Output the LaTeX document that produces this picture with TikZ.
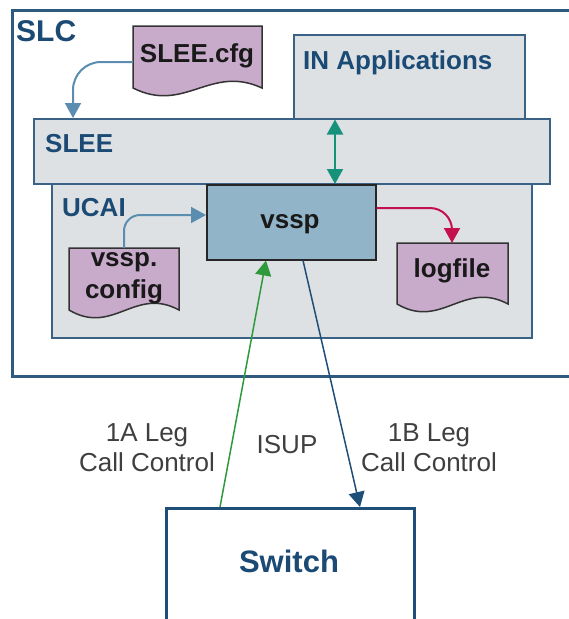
\documentclass[tikz,border=0pt]{standalone}
\usepackage{fontspec}
\setmainfont{Liberation Sans}
\usetikzlibrary{arrows.meta,calc}
\definecolor{slcblue}{HTML}{2E5A80}
\definecolor{textblue}{HTML}{1B4A75}
\definecolor{boxgray}{HTML}{DDE1E3}
\definecolor{boxborder}{HTML}{3A6186}
\definecolor{vsspfill}{HTML}{92B4C8}
\definecolor{docfill}{HTML}{C8AACB}
\definecolor{cfgblue}{HTML}{5A8DB0}
\definecolor{tealc}{HTML}{17927A}
\definecolor{redc}{HTML}{C4104C}
\definecolor{greenc}{HTML}{2E9A3C}
\definecolor{navyc}{HTML}{1F4E79}
\definecolor{lblgray}{HTML}{3F3F3F}
\newcommand{\docshape}[5]{%
  \draw[docstyle] (#2,#3) -- (#4,#3) -- (#4,#5)
    .. controls ({#2+0.6*(#4-#2)},{#5-24}) and ({#2+0.4*(#4-#2)},{#5+26}) .. (#2,#5) -- cycle;
  \coordinate (#1) at ({(#2+#4)/2},{(#3+#5)/2});
}
\begin{document}
\begin{tikzpicture}[x=1pt,y=-1pt,
  grayboxstyle/.style={draw=boxborder, line width=1.5pt, fill=boxgray, anchor=north west, inner sep=0},
  docstyle/.style={draw=black!80, line width=1.5pt, fill=docfill},
  bluetxt/.style={text=textblue, font=\fontsize{26}{30}\selectfont\bfseries, inner sep=0},
  blacktxt/.style={text=black!90, font=\fontsize{26}{30}\selectfont\bfseries, inner sep=0},
  lbl/.style={text=lblgray, font=\fontsize{26}{30}\selectfont, inner sep=0, align=center},
  tipa/.style={-{Triangle[length=15pt,width=16pt]}},
]
\useasboundingbox (0,0) rectangle (569,619);
\clip (0,0) rectangle (569,619);

% SLC outer box
\node[draw=slcblue, line width=3pt, fill=white, anchor=north west, inner sep=0,
      minimum width=590pt, minimum height=366pt] (slc) at (11,9) {};
\node[bluetxt, font=\fontsize{30}{34}\selectfont\bfseries, anchor=base west] (slct) at (16,41) {SLC};

% IN Applications
\node[grayboxstyle, minimum width=231pt, minimum height=84pt] (inapp) at (293,34) {};
\node[bluetxt, anchor=base west] (inappt) at (303,69) {IN Applications};

% UCAI
\node[grayboxstyle, minimum width=480pt, minimum height=167pt] (ucai) at (51,170) {};
\node[bluetxt, anchor=base west] (ucait) at (62,216) {UCAI};

% SLEE
\node[grayboxstyle, minimum width=516pt, minimum height=65pt] (slee) at (33,118) {};
\node[bluetxt, anchor=base west] (sleet) at (45,152) {SLEE};

% vssp
\node[draw=black!85, line width=1.5pt, fill=vsspfill, anchor=north west, inner sep=0,
      minimum width=169pt, minimum height=75pt] (vssp) at (206,184) {};
\node[blacktxt, anchor=base] (vsspt) at (290,228) {vssp};

% documents
\docshape{cfg}{133}{26}{262}{88}
\node[blacktxt, anchor=base] (cfgt) at (197,62) {SLEE.cfg};
\docshape{vcfg}{69}{248}{179}{310}
\node[blacktxt, anchor=base] (vcfgt1) at (124,266) {vssp.};
\node[blacktxt, anchor=base] (vcfgt2) at (124,298) {config};
\docshape{logf}{397}{243}{508}{304}
\node[blacktxt, anchor=base] (logt) at (452,277) {logfile};

\coordinate (cfgw) at (133,62);
\coordinate (vcfgn) at (124,248);
\coordinate (logn) at (452,243);

% Switch
\node[draw=navyc, line width=2.5pt, fill=white, anchor=north west, inner sep=0,
      minimum width=248pt, minimum height=112pt] (switch) at (165,507) {};
\node[bluetxt, font=\fontsize{31}{34}\selectfont\bfseries, anchor=base] (switcht) at (289,572) {Switch};

% connectors
\draw[cfgblue, line width=2pt, tipa, rounded corners=28pt]
  (cfgw) -| ($(slee.north west)+(40,0)$);
\draw[cfgblue, line width=2pt, tipa, rounded corners=16pt]
  (vcfgn) |- ($(vssp.north west)+(0,31)$);
\draw[redc, line width=2pt, tipa, rounded corners=22pt]
  ($(vssp.north east)+(0,24)$) -| (logn);
\draw[tealc, line width=2pt, {Triangle[length=15pt,width=16pt]}-{Triangle[length=15pt,width=16pt]}]
  ($(inapp.south west)+(42,0)$) -- ($(vssp.north west)+(129,0)$);
\draw[greenc, line width=1.5pt, tipa]
  ($(switch.north west)+(55,0)$) -- ($(vssp.south west)+(60,0)$);
\draw[navyc, line width=1.5pt, tipa]
  ($(vssp.south west)+(97,0)$) -- ($(switch.north west)+(195,0)$);

% labels
\node[lbl] (l1a) at (147,448) {1A Leg\\Call Control};
\node[lbl, anchor=base] (isup) at (287,453) {ISUP};
\node[lbl] (l1b) at (429,448) {1B Leg\\Call Control};
\end{tikzpicture}
\end{document}
